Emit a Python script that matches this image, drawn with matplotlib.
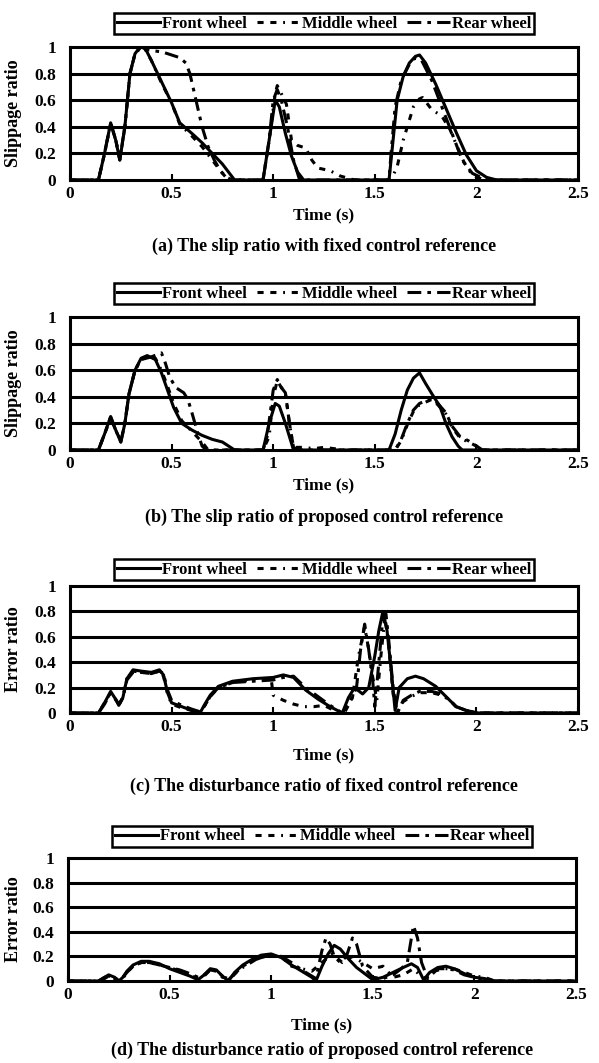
import numpy as np
import matplotlib
matplotlib.use('Agg')
import matplotlib.pyplot as plt

plt.rcParams['font.family'] = ['Liberation Serif', 'DejaVu Serif']
plt.rcParams['font.weight'] = 'bold'

# ---- data ----
# (a) slip ratio, fixed control reference
a_front_t = [0, 0.14, 0.17, 0.2, 0.225, 0.245, 0.27, 0.295, 0.32, 0.35, 0.36, 0.4, 0.45, 0.5, 0.54, 0.6, 0.65, 0.7, 0.75, 0.78, 0.81,
             0.95, 0.98, 1.01, 1.03, 1.06, 1.09, 1.12, 1.15, 1.57, 1.59, 1.61, 1.64, 1.67, 1.7, 1.72, 1.75, 1.8, 1.85, 1.9, 1.95, 2.0, 2.05, 2.1, 2.5]
a_front_y = [0, 0, 0.2, 0.43, 0.3, 0.15, 0.4, 0.8, 0.95, 1.01, 1.02, 0.9, 0.74, 0.58, 0.43, 0.35, 0.28, 0.2, 0.12, 0.06, 0,
             0, 0.3, 0.6, 0.55, 0.35, 0.18, 0.06, 0, 0, 0.3, 0.6, 0.78, 0.88, 0.93, 0.94, 0.88, 0.72, 0.54, 0.36, 0.19, 0.07, 0.02, 0, 0]
a_middle_t = [0, 0.14, 0.17, 0.2, 0.225, 0.245, 0.27, 0.295, 0.32, 0.35, 0.36, 0.4, 0.45, 0.5, 0.54, 0.6, 0.65, 0.7, 0.75, 0.78,
              0.95, 0.98, 1.01, 1.02, 1.04, 1.065, 1.09, 1.12, 1.16, 1.19, 1.22, 1.28, 1.33, 1.4,
              1.58, 1.61, 1.64, 1.67, 1.69, 1.72, 1.735, 1.76, 1.78, 1.83, 1.87, 1.9, 1.94, 1.97, 2.0, 2.05, 2.5]
a_middle_y = [0, 0, 0.2, 0.42, 0.3, 0.16, 0.4, 0.8, 0.95, 1.0, 1.01, 0.9, 0.73, 0.58, 0.42, 0.33, 0.25, 0.15, 0.05, 0,
              0, 0.3, 0.65, 0.71, 0.65, 0.57, 0.3, 0.26, 0.24, 0.15, 0.09, 0.07, 0.03, 0,
              0, 0.1, 0.3, 0.45, 0.55, 0.61, 0.62, 0.57, 0.53, 0.48, 0.38, 0.27, 0.13, 0.06, 0.02, 0, 0]
a_rear_t = [0, 0.14, 0.17, 0.2, 0.225, 0.245, 0.27, 0.295, 0.32, 0.35, 0.38, 0.42, 0.46, 0.5, 0.54, 0.57, 0.59, 0.62, 0.65, 0.68, 0.71, 0.74, 0.77, 0.8,
            0.95, 0.98, 1.0, 1.02, 1.04, 1.07, 1.1, 1.13, 1.57, 1.58, 1.6, 1.63, 1.67, 1.7, 1.73, 1.78, 1.83, 1.88, 1.93, 1.98, 2.05, 2.5]
a_rear_y = [0, 0, 0.2, 0.43, 0.3, 0.15, 0.4, 0.8, 0.95, 1.0, 0.98, 0.97, 0.96, 0.94, 0.92, 0.88, 0.8, 0.6, 0.4, 0.25, 0.15, 0.07, 0.02, 0,
            0, 0.3, 0.6, 0.68, 0.6, 0.4, 0.15, 0, 0, 0.2, 0.55, 0.75, 0.87, 0.92, 0.9, 0.75, 0.55, 0.35, 0.15, 0.05, 0, 0]

# (b) slip ratio, proposed control reference
b_front_t = [0, 0.14, 0.17, 0.2, 0.225, 0.25, 0.27, 0.29, 0.32, 0.35, 0.38, 0.42, 0.45, 0.48, 0.51, 0.55, 0.6, 0.65, 0.7, 0.75, 0.78, 0.81,
             0.95, 0.98, 1.01, 1.03, 1.06, 1.09, 1.1, 1.57, 1.6, 1.63, 1.66, 1.69, 1.72, 1.75, 1.79, 1.82, 1.85, 1.88, 1.91, 1.93, 2.5]
b_front_y = [0, 0, 0.12, 0.25, 0.15, 0.06, 0.2, 0.42, 0.6, 0.69, 0.71, 0.68, 0.58, 0.45, 0.32, 0.2, 0.15, 0.11, 0.08, 0.06, 0.03, 0,
             0, 0.2, 0.35, 0.33, 0.2, 0.05, 0, 0, 0.12, 0.3, 0.45, 0.54, 0.58, 0.5, 0.4, 0.33, 0.2, 0.1, 0.03, 0, 0]
b_middle_t = [0, 0.14, 0.17, 0.2, 0.225, 0.25, 0.27, 0.29, 0.32, 0.35, 0.38, 0.42, 0.45, 0.48, 0.51, 0.55, 0.6, 0.65, 0.68,
              0.95, 0.98, 1.0, 1.02, 1.04, 1.06, 1.08, 1.1, 1.15, 1.2, 1.25, 1.3, 1.35,
              1.6, 1.63, 1.66, 1.69, 1.72, 1.75, 1.78, 1.81, 1.85, 1.88, 1.92, 1.96, 2.0, 2.03, 2.5]
b_middle_y = [0, 0, 0.12, 0.24, 0.15, 0.07, 0.2, 0.42, 0.6, 0.68, 0.7, 0.69, 0.6, 0.48, 0.35, 0.22, 0.14, 0.06, 0,
              0, 0.1, 0.4, 0.52, 0.47, 0.43, 0.2, 0.02, 0.02, 0.01, 0.02, 0.01, 0,
              0, 0.07, 0.19, 0.29, 0.34, 0.36, 0.38, 0.34, 0.27, 0.17, 0.09, 0.06, 0.03, 0, 0]
b_rear_t = [0, 0.14, 0.17, 0.2, 0.225, 0.25, 0.27, 0.29, 0.32, 0.35, 0.4, 0.45, 0.47, 0.49, 0.52, 0.56, 0.58, 0.6, 0.63, 0.65, 0.67,
            0.95, 0.97, 1.0, 1.02, 1.04, 1.06, 1.08, 1.1, 1.12, 1.6, 1.63, 1.66, 1.69, 1.72, 1.75, 1.78, 1.81, 1.85, 1.88, 1.92, 1.96, 2.0, 2.03, 2.5]
b_rear_y = [0, 0, 0.12, 0.25, 0.15, 0.06, 0.2, 0.42, 0.6, 0.68, 0.7, 0.73, 0.65, 0.55, 0.47, 0.43, 0.38, 0.28, 0.12, 0.03, 0,
            0, 0.1, 0.45, 0.53, 0.47, 0.43, 0.2, 0.02, 0, 0, 0.08, 0.2, 0.3, 0.35, 0.37, 0.39, 0.35, 0.28, 0.18, 0.1, 0.07, 0.03, 0, 0]

# (c) disturbance ratio, fixed control reference
c_front_t = [0, 0.14, 0.17, 0.2, 0.22, 0.24, 0.26, 0.28, 0.31, 0.35, 0.4, 0.44, 0.46, 0.48, 0.5, 0.55, 0.6, 0.64, 0.66, 0.69, 0.73, 0.8, 0.9, 1.0,
             1.05, 1.1, 1.16, 1.22, 1.28, 1.34, 1.37, 1.4, 1.44, 1.47, 1.5, 1.52, 1.54, 1.56, 1.58, 1.6, 1.62, 1.66, 1.7, 1.74, 1.8, 1.85, 1.9, 1.95, 2.01, 2.5]
c_front_y = [0, 0, 0.08, 0.17, 0.12, 0.06, 0.12, 0.27, 0.34, 0.33, 0.32, 0.34, 0.3, 0.16, 0.08, 0.05, 0.02, 0, 0.06, 0.14, 0.21, 0.25, 0.27, 0.28,
             0.3, 0.28, 0.18, 0.11, 0.05, 0, 0.12, 0.2, 0.15, 0.2, 0.45, 0.65, 0.8, 0.65, 0.35, 0.02, 0.2, 0.27, 0.29, 0.27, 0.21, 0.13, 0.05, 0.02, 0, 0]
c_middle_t = [0, 0.14, 0.17, 0.2, 0.22, 0.24, 0.26, 0.28, 0.31, 0.35, 0.4, 0.44, 0.46, 0.48, 0.5, 0.55, 0.6, 0.64, 0.66, 0.69, 0.73, 0.8, 0.9, 0.99,
              1.0, 1.05, 1.1, 1.15, 1.2, 1.25, 1.3, 1.35, 1.39, 1.42, 1.45, 1.47, 1.49, 1.51, 1.53, 1.55, 1.57, 1.59, 1.61,
              1.64, 1.68, 1.72, 1.78, 1.83, 1.87, 1.9, 1.95, 2.0, 2.5]
c_middle_y = [0, 0, 0.08, 0.16, 0.12, 0.06, 0.12, 0.27, 0.33, 0.32, 0.31, 0.33, 0.29, 0.15, 0.07, 0.04, 0.02, 0, 0.05, 0.13, 0.2, 0.24, 0.26, 0.27,
              0.14, 0.1, 0.07, 0.05, 0.05, 0.06, 0.02, 0, 0.12, 0.45, 0.68, 0.5, 0.28, 0.1, 0.45, 0.76, 0.5, 0.15, 0,
              0.09, 0.13, 0.16, 0.16, 0.14, 0.1, 0.05, 0.02, 0, 0]
c_rear_t = [0, 0.14, 0.17, 0.2, 0.22, 0.24, 0.26, 0.28, 0.31, 0.35, 0.4, 0.44, 0.46, 0.48, 0.5, 0.55, 0.6, 0.64, 0.66, 0.69, 0.73, 0.8, 0.9, 1.0,
            1.05, 1.1, 1.16, 1.22, 1.28, 1.34, 1.38, 1.41, 1.43, 1.45, 1.47, 1.49, 1.5, 1.52, 1.54, 1.555, 1.57, 1.59, 1.61,
            1.64, 1.68, 1.72, 1.78, 1.83, 1.87, 1.9, 1.95, 2.0, 2.5]
c_rear_y = [0, 0, 0.07, 0.16, 0.12, 0.07, 0.12, 0.26, 0.32, 0.32, 0.31, 0.33, 0.31, 0.18, 0.1, 0.06, 0.03, 0.01, 0.05, 0.13, 0.2, 0.24, 0.25, 0.26,
            0.28, 0.29, 0.2, 0.13, 0.06, 0, 0.1, 0.2, 0.5, 0.7, 0.5, 0.25, 0.05, 0.4, 0.75, 0.78, 0.55, 0.2, 0,
            0.1, 0.14, 0.17, 0.17, 0.15, 0.1, 0.05, 0.02, 0, 0]

# (d) disturbance ratio, proposed control reference
d_front_t = [0, 0.15, 0.18, 0.2, 0.23, 0.25, 0.27, 0.29, 0.32, 0.36, 0.4, 0.45, 0.5, 0.55, 0.6, 0.64, 0.67, 0.7, 0.73, 0.76, 0.79, 0.82, 0.86, 0.9,
             0.95, 1.0, 1.05, 1.1, 1.15, 1.2, 1.22, 1.25, 1.28, 1.31, 1.34, 1.38, 1.42, 1.46, 1.5, 1.55, 1.6, 1.65, 1.69, 1.72, 1.75,
             1.78, 1.82, 1.86, 1.9, 1.95, 2.0, 2.05, 2.1, 2.5]
d_front_y = [0, 0, 0.03, 0.05, 0.03, 0, 0.03, 0.08, 0.13, 0.16, 0.16, 0.14, 0.1, 0.07, 0.04, 0.01, 0.05, 0.1, 0.09, 0.04, 0, 0.07, 0.13, 0.17,
             0.21, 0.22, 0.19, 0.13, 0.08, 0.03, 0, 0.12, 0.22, 0.29, 0.26, 0.18, 0.11, 0.06, 0.01, 0.03, 0.07, 0.11, 0.14, 0.11, 0.01,
             0.07, 0.11, 0.12, 0.1, 0.06, 0.03, 0.02, 0, 0]
d_middle_t = [0, 0.15, 0.18, 0.2, 0.23, 0.25, 0.27, 0.29, 0.32, 0.36, 0.4, 0.45, 0.5, 0.55, 0.6, 0.64, 0.67, 0.7, 0.73, 0.76, 0.8, 0.84, 0.9,
              0.95, 1.0, 1.05, 1.1, 1.15, 1.2, 1.25, 1.3, 1.35, 1.4, 1.45, 1.5, 1.55, 1.6, 1.65, 1.7, 1.73, 1.76,
              1.8, 1.85, 1.9, 1.95, 2.0, 2.05, 2.1, 2.5]
d_middle_y = [0, 0, 0.02, 0.04, 0.02, 0, 0.02, 0.07, 0.12, 0.15, 0.15, 0.13, 0.11, 0.08, 0.05, 0.02, 0.04, 0.09, 0.08, 0.03, 0.02, 0.09, 0.15,
              0.2, 0.2, 0.2, 0.12, 0.1, 0.08, 0.15, 0.22, 0.15, 0.2, 0.15, 0.1, 0.12, 0.03, 0.05, 0.1, 0.05, 0.02,
              0.08, 0.1, 0.1, 0.07, 0.04, 0.03, 0, 0]
d_rear_t = [0, 0.15, 0.18, 0.2, 0.23, 0.25, 0.27, 0.29, 0.32, 0.36, 0.4, 0.45, 0.5, 0.55, 0.6, 0.64, 0.67, 0.7, 0.73, 0.76, 0.79, 0.82, 0.86, 0.9,
            0.95, 1.0, 1.05, 1.1, 1.15, 1.2, 1.22, 1.25, 1.27, 1.29, 1.31, 1.34, 1.37, 1.4, 1.42, 1.45, 1.5, 1.55, 1.6, 1.64, 1.67, 1.69, 1.7, 1.72,
            1.74, 1.77, 1.82, 1.86, 1.9, 1.95, 2.0, 2.05, 2.1, 2.5]
d_rear_y = [0, 0, 0.03, 0.04, 0.03, 0, 0.03, 0.07, 0.12, 0.15, 0.15, 0.13, 0.11, 0.09, 0.06, 0.03, 0.05, 0.09, 0.08, 0.04, 0.01, 0.06, 0.12, 0.16,
            0.19, 0.21, 0.2, 0.15, 0.09, 0.04, 0.02, 0.25, 0.35, 0.3, 0.2, 0.15, 0.2, 0.35, 0.3, 0.12, 0.03, 0.02, 0.05, 0.1, 0.15, 0.35, 0.45, 0.35,
            0.15, 0.02, 0.1, 0.1, 0.09, 0.05, 0.03, 0.01, 0, 0]

x_ticks = [0, 0.5, 1, 1.5, 2, 2.5]
x_ticklabels = ['0', '0.5', '1', '1.5', '2', '2.5']
y_ticks = [0, 0.2, 0.4, 0.6, 0.8, 1]
y_ticklabels = ['0', '0.2', '0.4', '0.6', '0.8', '1']
series_names = ['Front wheel', 'Middle wheel', 'Rear wheel']

panels = [
    dict(data=[(a_front_t, a_front_y), (a_middle_t, a_middle_y), (a_rear_t, a_rear_y)],
         ylabel='Slippage ratio', caption='(a) The slip ratio with fixed control reference',
         box=(70, 578, 47, 180), legend_gap=13, time_y=215, cap_y=246),
    dict(data=[(b_front_t, b_front_y), (b_middle_t, b_middle_y), (b_rear_t, b_rear_y)],
         ylabel='Slippage ratio', caption='(b) The slip ratio of proposed control reference',
         box=(70, 578, 317, 450), legend_gap=13, time_y=485, cap_y=517),
    dict(data=[(c_front_t, c_front_y), (c_middle_t, c_middle_y), (c_rear_t, c_rear_y)],
         ylabel='Error ratio', caption='(c) The disturbance ratio of fixed control reference',
         box=(70, 578, 586, 713), legend_gap=6, time_y=755, cap_y=786),
    dict(data=[(d_front_t, d_front_y), (d_middle_t, d_middle_y), (d_rear_t, d_rear_y)],
         ylabel='Error ratio', caption='(d) The disturbance ratio of proposed control reference',
         box=(68, 576, 858, 981), legend_gap=11, time_y=1025, cap_y=1050),
]

W, H = 599, 1063
fig = plt.figure(figsize=(W/100, H/100), dpi=100)

styles = [dict(linestyle='-'),
          dict(linestyle=(0, (2.0, 2.2, 2.0, 2.2, 0.6, 2.2))),
          dict(linestyle=(0, (4.5, 2.0, 1.2, 2.0)))]

for p in panels:
    l, r, t, b = p['box']
    ax = fig.add_axes([l/W, 1 - b/H, (r - l)/W, (b - t)/H])
    for (tt, yy), st, name in zip(p['data'], styles, series_names):
        ax.plot(tt, yy, color='black', lw=2.2, label=name, **st)
    ax.set_xlim(0, 2.5)
    ax.set_ylim(0, 1)
    for yv in y_ticks[1:-1]:
        ax.axhline(yv, color='black', lw=2.2, zorder=0)
    ax.set_xticks(x_ticks)
    ax.set_xticklabels(x_ticklabels, fontsize=12.5, fontweight='bold')
    ax.set_yticks(y_ticks)
    ax.set_yticklabels(y_ticklabels, fontsize=12.5, fontweight='bold')
    ax.tick_params(axis='x', direction='in', length=4, width=1.5, pad=4)
    ax.tick_params(axis='y', length=0, pad=10)
    for s in ax.spines.values():
        s.set_linewidth(2.2)
    ax.set_ylabel(p['ylabel'], fontsize=13, fontweight='bold')
    ax.yaxis.set_label_coords((22 - l)/(r - l), 0.5)
    ax.set_xlabel('Time (s)', fontsize=12.5, fontweight='bold')
    ax.xaxis.label.set_va('center')
    ax.xaxis.set_label_coords(0.5, -(p['time_y'] - b)/(b - t))
    leg = ax.legend(loc='lower center', bbox_to_anchor=(0.5, 1 + p['legend_gap']/(b - t)), ncol=3,
                    fontsize=12, frameon=True, fancybox=False, edgecolor='black', framealpha=1,
                    handlelength=2.6, handletextpad=0.1, columnspacing=0.6, borderpad=0.15,
                    borderaxespad=0)
    leg.get_frame().set_linewidth(1.8)
    fig.text((l + r)/2/W, 1 - p['cap_y']/H, p['caption'], ha='center', va='center',
             fontsize=13, fontweight='bold')

fig.savefig('out.png', dpi=100)
